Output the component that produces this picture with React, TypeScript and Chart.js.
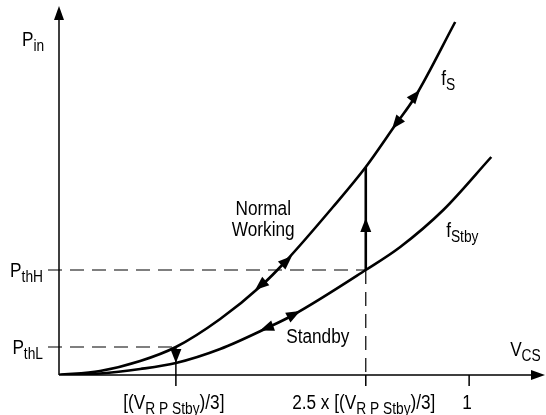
import { useEffect, useRef } from 'react';
import { Chart, registerables } from 'chart.js';
Chart.register(...registerables);

// Curve f_S (normal working)
const fsX = [0, 0.10, 0.198, 0.285, 0.393, 0.495, 0.551, 0.668, 0.748, 0.82, 0.868, 0.966];
const fsY = [0, 0.04, 0.14, 0.28, 0.56, 0.90, 1.13, 1.68, 2.08, 2.50, 2.78, 3.53];
// Curve f_Stby (standby)
const stbyX = [0, 0.10, 0.198, 0.285, 0.393, 0.507, 0.571, 0.748, 0.832, 0.937, 1.054];
const stbyY = [0, 0.015, 0.06, 0.12, 0.26, 0.47, 0.60, 1.05, 1.28, 1.65, 2.18];

const pThH = 1.05;
const pThL = 0.28;
const xMax = 1.185;
const yMax = 3.69;

type Part = [string, number];
const xTickValues = [0.285, 0.748, 1.0];
const xTickLabels: Part[][] = [
  [['[(V', 0], ['R P Stby', 1], [')/3]', 0]],
  [['2.5 x [(V', 0], ['R P Stby', 1], [')/3]', 0]],
  [['1', 0]],
];
const yTickValues = [pThH, pThL];
const yTickLabels: Part[][] = [
  [['P', 0], ['thH', 1]],
  [['P', 0], ['thL', 1]],
];

const notes: { parts: Part[]; x: number; y: number; align: string }[] = [
  { parts: [['P', 0], ['in', 1]], x: -0.09, y: 3.29, align: 'left' },
  { parts: [['f', 0], ['S', 1]], x: 0.932, y: 2.9, align: 'left' },
  { parts: [['f', 0], ['Stby', 1]], x: 0.944, y: 1.38, align: 'left' },
  { parts: [['V', 0], ['CS', 1]], x: 1.1, y: 0.19, align: 'left' },
  { parts: [['Normal', 0]], x: 0.498, y: 1.6, align: 'center' },
  { parts: [['Working', 0]], x: 0.498, y: 1.39, align: 'center' },
  { parts: [['Standby', 0]], x: 0.554, y: 0.32, align: 'left' },
];

// arrowheads: tip and a point behind the tip (data units)
const arrows: { tip: number[]; from: number[] }[] = [
  { tip: [0.568, 1.19], from: [0.539, 1.08] },
  { tip: [0.478, 0.85], from: [0.51, 0.96] },
  { tip: [0.88, 2.85], from: [0.856, 2.73] },
  { tip: [0.812, 2.46], from: [0.839, 2.6] },
  { tip: [0.588, 0.64], from: [0.559, 0.576] },
  { tip: [0.49, 0.445], from: [0.52, 0.49] },
  { tip: [0.748, 1.57], from: [0.748, 1.4] },
  { tip: [0.285, 0.12], from: [0.285, 0.28] },
];

const FONT = '"Liberation Sans", Arial, sans-serif';
const MAIN = 20;
const SUB = 16;
const COND = 0.86;

function richWidth(ctx: CanvasRenderingContext2D, parts: Part[]) {
  let w = 0;
  for (const [t, s] of parts) {
    ctx.font = `${s ? SUB : MAIN}px ${FONT}`;
    w += ctx.measureText(t).width * COND;
  }
  return w;
}

function drawRich(ctx: CanvasRenderingContext2D, parts: Part[], x: number, y: number, align: string) {
  const w = richWidth(ctx, parts);
  let cx = align === 'center' ? x - w / 2 : align === 'right' ? x - w : x;
  ctx.textAlign = 'left';
  ctx.textBaseline = 'alphabetic';
  ctx.fillStyle = '#000';
  for (const [t, s] of parts) {
    ctx.font = `${s ? SUB : MAIN}px ${FONT}`;
    const tw = ctx.measureText(t).width * COND;
    ctx.save();
    ctx.translate(cx, y + (s ? 5 : 0));
    ctx.scale(COND, 1);
    ctx.fillText(t, 0, 0);
    ctx.restore();
    cx += tw;
  }
}

function arrowHead(ctx: CanvasRenderingContext2D, tx: number, ty: number, fx: number, fy: number, len = 14, hw = 5.5) {
  const dx = tx - fx, dy = ty - fy;
  const d = Math.hypot(dx, dy) || 1;
  const ux = dx / d, uy = dy / d;
  const bx = tx - ux * len, by = ty - uy * len;
  ctx.beginPath();
  ctx.moveTo(tx, ty);
  ctx.lineTo(bx - uy * hw, by + ux * hw);
  ctx.lineTo(bx + uy * hw, by - ux * hw);
  ctx.closePath();
  ctx.fillStyle = '#000';
  ctx.fill();
}

const decor = {
  id: 'decor',
  afterDatasetsDraw(chart: any) {
    const ctx: CanvasRenderingContext2D = chart.ctx;
    const xs = chart.scales.x, ys = chart.scales.y;
    const X = (v: number) => xs.getPixelForValue(v);
    const Y = (v: number) => ys.getPixelForValue(v);
    const x0 = X(0), y0 = Y(0);
    ctx.save();
    ctx.strokeStyle = '#000';
    // axes
    ctx.lineWidth = 1.5;
    ctx.beginPath();
    ctx.moveTo(x0, y0);
    ctx.lineTo(x0, Y(yMax) + 10);
    ctx.moveTo(x0, y0);
    ctx.lineTo(X(xMax) - 10, y0);
    ctx.stroke();
    arrowHead(ctx, x0, Y(yMax), x0, y0, 14, 5);
    arrowHead(ctx, X(xMax), y0, x0, y0, 14, 5);
    // dashed guides
    ctx.lineWidth = 1.2;
    ctx.setLineDash([14, 8]);
    ctx.beginPath();
    ctx.moveTo(x0 - 11, Y(pThH));
    ctx.lineTo(X(xTickValues[1]), Y(pThH));
    ctx.moveTo(x0 - 11, Y(pThL));
    ctx.lineTo(X(xTickValues[0]), Y(pThL));
    ctx.moveTo(X(xTickValues[1]), Y(pThH));
    ctx.lineTo(X(xTickValues[1]), y0);
    ctx.stroke();
    ctx.setLineDash([]);
    // solid vertical at first tick from PthL to axis
    ctx.lineWidth = 1.5;
    ctx.beginPath();
    ctx.moveTo(X(xTickValues[0]), Y(pThL));
    ctx.lineTo(X(xTickValues[0]), y0);
    ctx.stroke();
    // ticks below axis
    ctx.beginPath();
    for (const v of xTickValues) {
      ctx.moveTo(X(v), y0);
      ctx.lineTo(X(v), y0 + 11);
    }
    ctx.stroke();
    // transition line (standby -> normal)
    ctx.lineWidth = 2.6;
    ctx.beginPath();
    ctx.moveTo(X(xTickValues[1]), Y(pThH));
    ctx.lineTo(X(xTickValues[1]), Y(2.08));
    ctx.stroke();
    // arrowheads
    for (const a of arrows) {
      arrowHead(ctx, X(a.tip[0]), Y(a.tip[1]), X(a.from[0]), Y(a.from[1]));
    }
    // tick labels
    xTickValues.forEach((v, i) => drawRich(ctx, xTickLabels[i], X(v) - 2, y0 + 34, 'center'));
    yTickValues.forEach((v, i) => drawRich(ctx, yTickLabels[i], x0 - 16, Y(v) + 7, 'right'));
    for (const n of notes) drawRich(ctx, n.parts, X(n.x), Y(n.y), n.align);
    ctx.restore();
  },
};

export default function App() {
  const ref = useRef<HTMLCanvasElement>(null);
  useEffect(() => {
    if (!ref.current) return;
    const chart = new Chart(ref.current, {
      type: 'line',
      data: {
        datasets: [
          {
            label: 'fS',
            data: fsX.map((x, i) => ({ x, y: fsY[i] })),
            borderColor: '#000',
            borderWidth: 2.6,
            pointRadius: 0,
            cubicInterpolationMode: 'monotone',
            fill: false,
          },
          {
            label: 'fStby',
            data: stbyX.map((x, i) => ({ x, y: stbyY[i] })),
            borderColor: '#000',
            borderWidth: 2.6,
            pointRadius: 0,
            cubicInterpolationMode: 'monotone',
            fill: false,
          },
        ],
      },
      options: {
        animation: false,
        responsive: false,
        events: [],
        layout: { padding: { left: 59, right: 1, top: 6, bottom: 40 } },
        plugins: { legend: { display: false }, tooltip: { enabled: false } },
        scales: {
          x: { type: 'linear', min: 0, max: xMax, display: false },
          y: { type: 'linear', min: 0, max: yMax, display: false },
        },
      },
      plugins: [decor],
    } as any);
    return () => chart.destroy();
  }, []);
  return (
    <div style={{ position: 'absolute', left: 0, top: 0, width: 546, height: 415, background: '#fff' }}>
      <canvas ref={ref} width={546} height={415} />
    </div>
  );
}
